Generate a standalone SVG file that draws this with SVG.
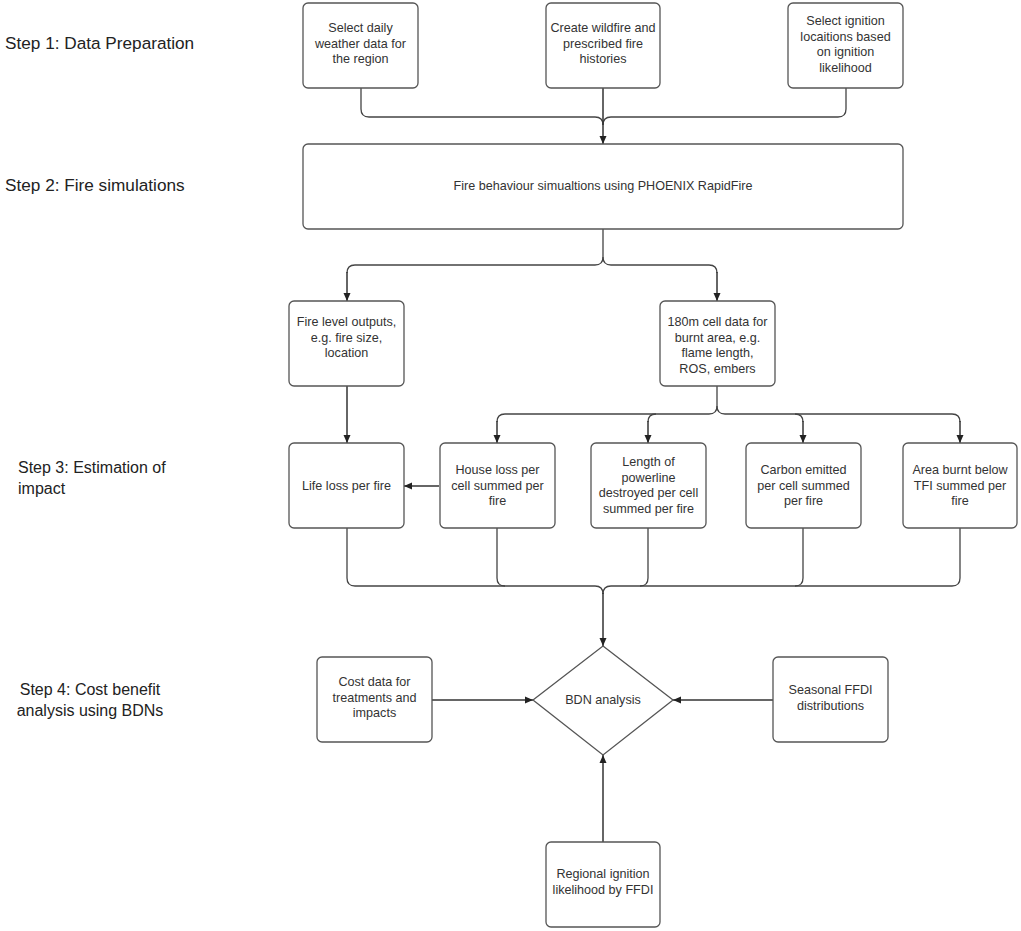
<svg xmlns="http://www.w3.org/2000/svg" width="1021" height="931" viewBox="0 0 1021 931">
<defs>
<marker id="ah" markerWidth="10" markerHeight="10" refX="9" refY="5" orient="auto" markerUnits="userSpaceOnUse">
<path d="M1,1.5 L9,5 L1,8.5 Z" fill="#222"/>
</marker>
<style>
.box{fill:#fff;stroke:#555;stroke-width:1.3}
.t{font-family:"Liberation Sans",Arial,sans-serif;font-size:12.6px;fill:#333;text-anchor:middle}
.s{font-family:"Liberation Sans",Arial,sans-serif;font-size:16px;fill:#222}
.s2{font-size:17.2px}
.c{fill:none;stroke:#444;stroke-width:1.3}
.a{fill:none;stroke:#333;stroke-width:1.5;marker-end:url(#ah)}
</style>
</defs>
<rect width="1021" height="931" fill="#fff"/>
<g id="labels">
<text class="s s2" x="5" y="49">Step 1: Data Preparation</text>
<text class="s s2" x="5" y="191">Step 2: Fire simulations</text>
<text class="s" x="18" y="473">Step 3: Estimation of</text>
<text class="s" x="18" y="494">impact</text>
<text class="s" x="90" y="695" text-anchor="middle">Step 4: Cost benefit</text>
<text class="s" x="90" y="716" text-anchor="middle">analysis using BDNs</text>
</g>
<g id="connectors">
<path class="c" d="M361,88 V109 Q361,117 369,117 H595 Q603,117 603,125"/>
<path class="c" d="M846,88 V109 Q846,117 838,117 H611 Q603,117 603,125"/>
<path class="a" d="M603,88 V144"/>
<path class="c" d="M603,229 V257 Q603,265 595,265 H355 Q347,265 347,273"/>
<path class="a" d="M347,272 V301"/>
<path class="c" d="M603,257 Q603,265 611,265 H709 Q717,265 717,273"/>
<path class="a" d="M717,272 V301"/>
<path class="a" d="M347,386 V443"/>
<path class="c" d="M717,386 V406 Q717,414 709,414 H505 Q497,414 497,422"/>
<path class="c" d="M656,414 Q648,414 648,422"/>
<path class="c" d="M717,406 Q717,414 725,414 H952 Q960,414 960,422"/>
<path class="c" d="M795,414 Q803,414 803,422"/>
<path class="a" d="M497,421 V443"/>
<path class="a" d="M648,421 V443"/>
<path class="a" d="M803,421 V443"/>
<path class="a" d="M960,421 V443"/>
<path class="a" d="M439,486 H404"/>
<path class="c" d="M347,528 V578 Q347,586 355,586 H595 Q603,586 603,594"/>
<path class="c" d="M497,528 V578 Q497,586 505,586"/>
<path class="c" d="M648,528 V578 Q648,586 640,586"/>
<path class="c" d="M803,528 V578 Q803,586 795,586"/>
<path class="c" d="M960,528 V578 Q960,586 952,586 H611 Q603,586 603,594"/>
<path class="a" d="M603,593 V646"/>
<path class="a" d="M432,700 H533"/>
<path class="a" d="M773,700 H673"/>
<path class="a" d="M603,842 V755"/>
</g>
<g id="n1"><rect class="box" x="303" y="3" width="115" height="85" rx="5"/>
<text class="t" x="360.5" y="32">Select daily</text><text class="t" x="360.5" y="47.5">weather data for</text><text class="t" x="360.5" y="63">the region</text></g>
<g id="n2"><rect class="box" x="546" y="3" width="114" height="85" rx="5"/>
<text class="t" x="603" y="32">Create wildfire and</text><text class="t" x="603" y="47.5">prescribed fire</text><text class="t" x="603" y="63">histories</text></g>
<g id="n3"><rect class="box" x="788" y="3" width="115" height="85" rx="5"/>
<text class="t" x="845.5" y="25">Select ignition</text><text class="t" x="845.5" y="40.5">locaitions based</text><text class="t" x="845.5" y="56">on ignition</text><text class="t" x="845.5" y="71.5">likelihood</text></g>
<g id="n4"><rect class="box" x="303" y="144" width="600" height="85" rx="5"/>
<text class="t" x="603" y="190">Fire behaviour simualtions using PHOENIX RapidFire</text></g>
<g id="n5"><rect class="box" x="289" y="301" width="115" height="85" rx="5"/>
<text class="t" x="346.5" y="326">Fire level outputs,</text><text class="t" x="346.5" y="341.5">e.g. fire size,</text><text class="t" x="346.5" y="357">location</text></g>
<g id="n6"><rect class="box" x="660" y="301" width="115" height="85" rx="5"/>
<text class="t" x="717.5" y="326">180m cell data for</text><text class="t" x="717.5" y="341.5">burnt area, e.g.</text><text class="t" x="717.5" y="357">flame length,</text><text class="t" x="717.5" y="372.5">ROS, embers</text></g>
<g id="n7"><rect class="box" x="289" y="443" width="115" height="85" rx="5"/>
<text class="t" x="346.5" y="490">Life loss per fire</text></g>
<g id="n8"><rect class="box" x="440" y="443" width="115" height="85" rx="5"/>
<text class="t" x="497.5" y="474">House loss per</text><text class="t" x="497.5" y="489.5">cell summed per</text><text class="t" x="497.5" y="505">fire</text></g>
<g id="n9"><rect class="box" x="591" y="443" width="115" height="85" rx="5"/>
<text class="t" x="648.5" y="466">Length of</text><text class="t" x="648.5" y="481.5">powerline</text><text class="t" x="648.5" y="497">destroyed per cell</text><text class="t" x="648.5" y="512.5">summed per fire</text></g>
<g id="n10"><rect class="box" x="746" y="443" width="115" height="85" rx="5"/>
<text class="t" x="803.5" y="474">Carbon emitted</text><text class="t" x="803.5" y="489.5">per cell summed</text><text class="t" x="803.5" y="505">per fire</text></g>
<g id="n11"><rect class="box" x="903" y="443" width="114" height="85" rx="5"/>
<text class="t" x="960" y="474">Area burnt below</text><text class="t" x="960" y="489.5">TFI summed per</text><text class="t" x="960" y="505">fire</text></g>
<g id="n12"><rect class="box" x="317" y="657" width="115" height="85" rx="5"/>
<text class="t" x="374.5" y="686">Cost data for</text><text class="t" x="374.5" y="701.5">treatments and</text><text class="t" x="374.5" y="717">impacts</text></g>
<g id="n13"><polygon class="box" points="603,646 673,700 603,755 533,700"/>
<text class="t" x="603" y="704">BDN analysis</text></g>
<g id="n14"><rect class="box" x="773" y="657" width="115" height="85" rx="5"/>
<text class="t" x="830.5" y="694">Seasonal FFDI</text><text class="t" x="830.5" y="709.5">distributions</text></g>
<g id="n15"><rect class="box" x="546" y="842" width="114" height="85" rx="5"/>
<text class="t" x="603" y="878">Regional ignition</text><text class="t" x="603" y="893.5">likelihood by FFDI</text></g>
</svg>
